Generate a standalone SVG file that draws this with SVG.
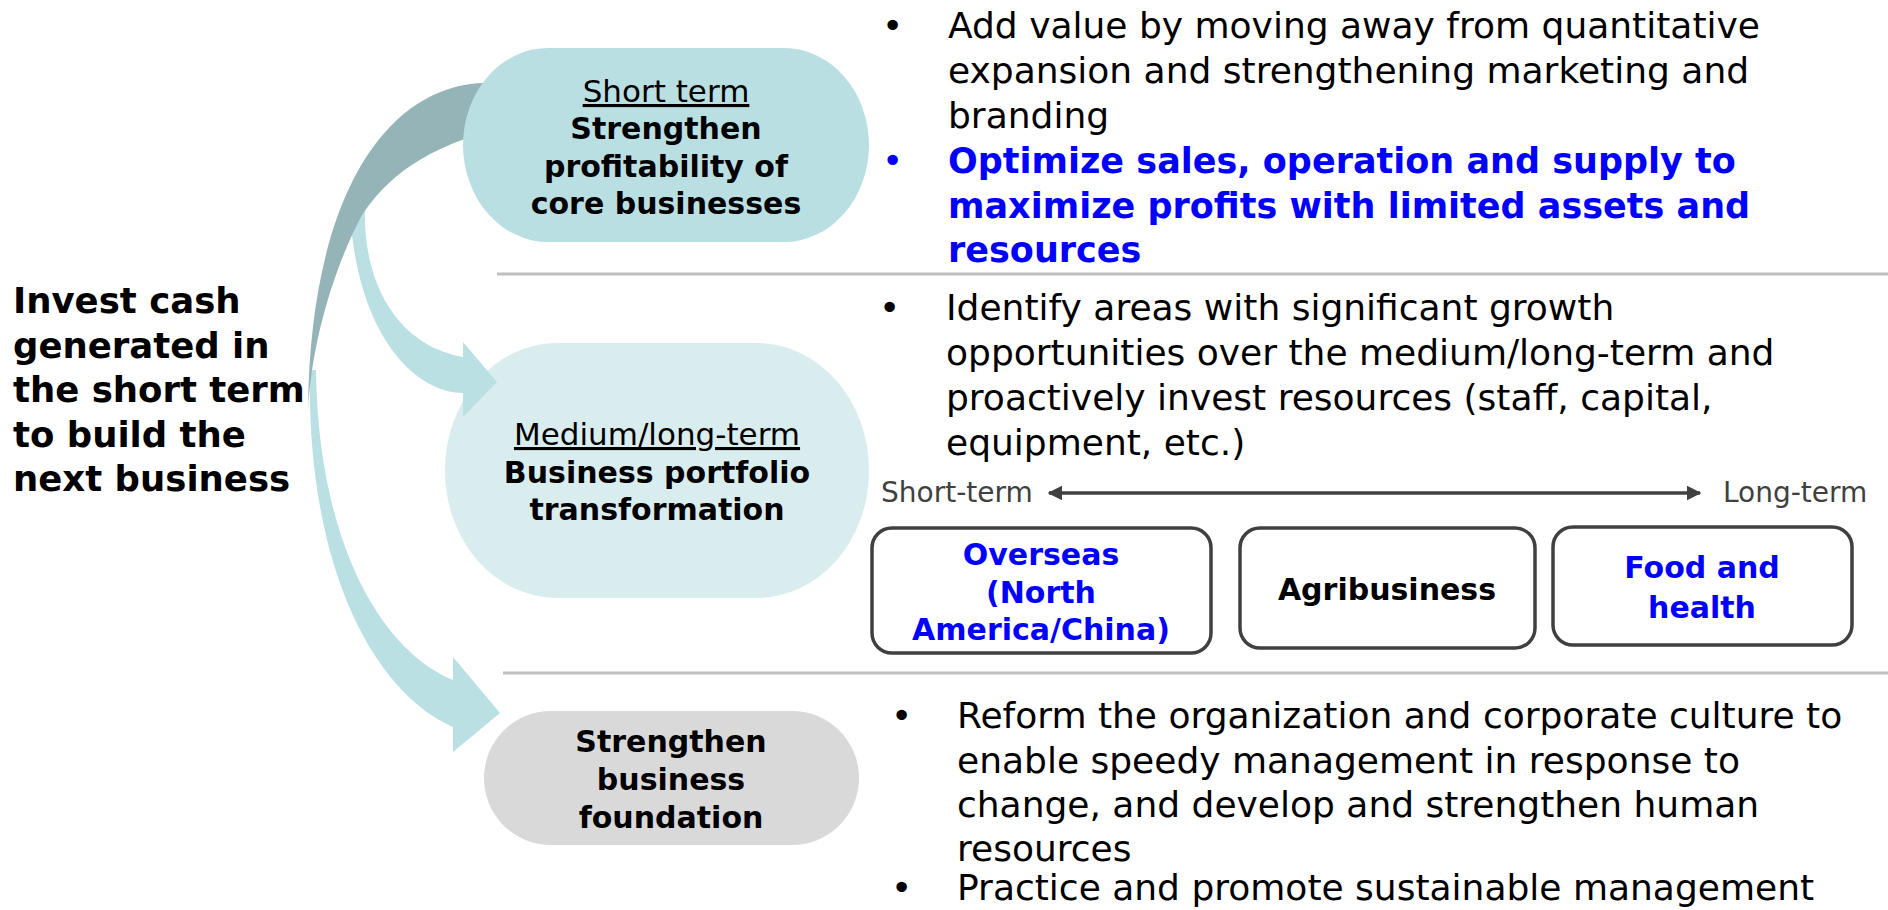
<svg xmlns="http://www.w3.org/2000/svg" width="1888" height="910" viewBox="0 0 1888 910">
  <defs>
    <marker id="head" viewBox="0 0 10 10" refX="9" refY="5" markerWidth="4.2" markerHeight="4.2" orient="auto-start-reverse" markerUnits="strokeWidth">
      <path d="M0,0 L10,5 L0,10 Z" fill="#404040"/>
    </marker>
  </defs>
  <style>
    text { font-family: "DejaVu Sans", Verdana, sans-serif; }
    .nodeSub { font-size: 31px; fill: #000; text-anchor: middle; text-decoration: underline; }
    .nodeMain { font-size: 30px; font-weight: bold; fill: #000; text-anchor: middle; }
    .lead { font-size: 35.5px; font-weight: bold; fill: #000; }
    .body { font-size: 36px; fill: #000; }
    .bodyBlue { font-size: 35px; font-weight: bold; fill: #0000FF; }
    .bulletBlue { font-size: 36px; fill: #0000FF; }
    .scale { font-size: 28px; fill: #404040; }
    .box { fill: #FFFFFF; stroke: #404040; stroke-width: 3.5; }
    .boxText { font-size: 30px; font-weight: bold; text-anchor: middle; fill: #000; }
    .boxBlue { font-size: 30px; font-weight: bold; text-anchor: middle; fill: #0000FF; }
    .rule { stroke: #BFBFBF; stroke-width: 3; }
  </style>

  <!-- white background -->
  <rect x="0" y="0" width="1888" height="910" fill="#FFFFFF"/>

  <!-- section dividers -->
  <line class="rule" x1="497" y1="274" x2="1888" y2="274"/>
  <line class="rule" x1="503" y1="673" x2="1888" y2="673"/>

  <!-- left lead text -->
  <g id="lead">
    <text class="lead" x="13" y="313">Invest cash</text>
    <text class="lead" x="13" y="358">generated in</text>
    <text class="lead" x="13" y="402">the short term</text>
    <text class="lead" x="13" y="447">to build the</text>
    <text class="lead" x="13" y="491">next business</text>
  </g>

  <!-- medium/long-term node -->
  <g id="node-medium">
    <rect x="445" y="343" width="424" height="255" rx="112" ry="127" fill="#DAEDEE"/>
    <text class="nodeSub" x="657" y="445">Medium/long-term</text>
    <text class="nodeMain" x="657" y="483">Business portfolio</text>
    <text class="nodeMain" x="657" y="520">transformation</text>
  </g>

  <!-- business foundation node -->
  <g id="node-foundation">
    <rect x="484" y="711" width="375" height="134" rx="67" ry="67" fill="#D9D9D9"/>
    <text class="nodeMain" x="671" y="752">Strengthen</text>
    <text class="nodeMain" x="671" y="790">business</text>
    <text class="nodeMain" x="671" y="828">foundation</text>
  </g>

  <!-- curved arrows from the short-term node -->
  <g id="connectors">
    <!-- to the medium/long-term node -->
    <path d="M365,205 C362,280 395,345 463,357 L463,342 L497,382 L463,417 L463,393 C420,393 365,345 352,235 Z" fill="#BBE0E3"/>
    <!-- to the business foundation node -->
    <path d="M310,370 C306,560 370,690 453,727 L453,752 L500,713 L453,657 L453,680 C380,650 318,540 316,370 Z" fill="#BBE0E3"/>
    <!-- shaded back of the curved arrow -->
    <path d="M505,78 L483,83 C390,86 310,190 308,410 C312,340 334,268 362,215 C385,180 425,145 505,128 Z" fill="#95B4B7"/>
  </g>

  <!-- short-term node -->
  <g id="node-short">
    <rect x="463" y="48" width="406" height="194" rx="85" ry="97" fill="#BADFE3"/>
    <text class="nodeSub" x="666" y="102">Short term</text>
    <text class="nodeMain" x="666" y="139">Strengthen</text>
    <text class="nodeMain" x="666" y="177">profitability of</text>
    <text class="nodeMain" x="666" y="214">core businesses</text>
  </g>

  <!-- short-term bullets -->
  <g id="text-short">
    <text class="body" x="882" y="38">•</text>
    <text class="body" x="948" y="38">Add value by moving away from quantitative</text>
    <text class="body" x="948" y="83">expansion and strengthening marketing and</text>
    <text class="body" x="948" y="128">branding</text>
    <text class="bulletBlue" x="882" y="173">•</text>
    <text class="bodyBlue" x="948" y="173">Optimize sales, operation and supply to</text>
    <text class="bodyBlue" x="948" y="218">maximize profits with limited assets and</text>
    <text class="bodyBlue" x="948" y="262">resources</text>
  </g>

  <!-- medium/long-term bullets -->
  <g id="text-medium">
    <text class="body" x="879" y="320">•</text>
    <text class="body" x="946" y="320">Identify areas with significant growth</text>
    <text class="body" x="946" y="365">opportunities over the medium/long-term and</text>
    <text class="body" x="946" y="410">proactively invest resources (staff, capital,</text>
    <text class="body" x="946" y="455">equipment, etc.)</text>
  </g>

  <!-- time scale -->
  <g id="scale">
    <text class="scale" x="881" y="502">Short-term</text>
    <line x1="1049" y1="493" x2="1700" y2="493" stroke="#404040" stroke-width="3.5" marker-start="url(#head)" marker-end="url(#head)"/>
    <text class="scale" x="1723" y="502">Long-term</text>
  </g>

  <!-- business areas -->
  <g id="box-overseas">
    <rect class="box" x="872" y="528" width="339" height="125" rx="20" ry="20"/>
    <text class="boxBlue" x="1041" y="565">Overseas</text>
    <text class="boxBlue" x="1041" y="603">(North</text>
    <text class="boxBlue" x="1041" y="640">America/China)</text>
  </g>
  <g id="box-agri">
    <rect class="box" x="1240" y="528" width="295" height="120" rx="20" ry="20"/>
    <text class="boxText" x="1387" y="600">Agribusiness</text>
  </g>
  <g id="box-food">
    <rect class="box" x="1553" y="527" width="299" height="118" rx="20" ry="20"/>
    <text class="boxBlue" x="1702" y="578">Food and</text>
    <text class="boxBlue" x="1702" y="618">health</text>
  </g>

  <!-- foundation bullets -->
  <g id="text-foundation">
    <text class="body" x="891" y="728">•</text>
    <text class="body" x="957" y="728">Reform the organization and corporate culture to</text>
    <text class="body" x="957" y="773">enable speedy management in response to</text>
    <text class="body" x="957" y="817">change, and develop and strengthen human</text>
    <text class="body" x="957" y="861">resources</text>
    <text class="body" x="891" y="900">•</text>
    <text class="body" x="957" y="900">Practice and promote sustainable management</text>
  </g>
</svg>
